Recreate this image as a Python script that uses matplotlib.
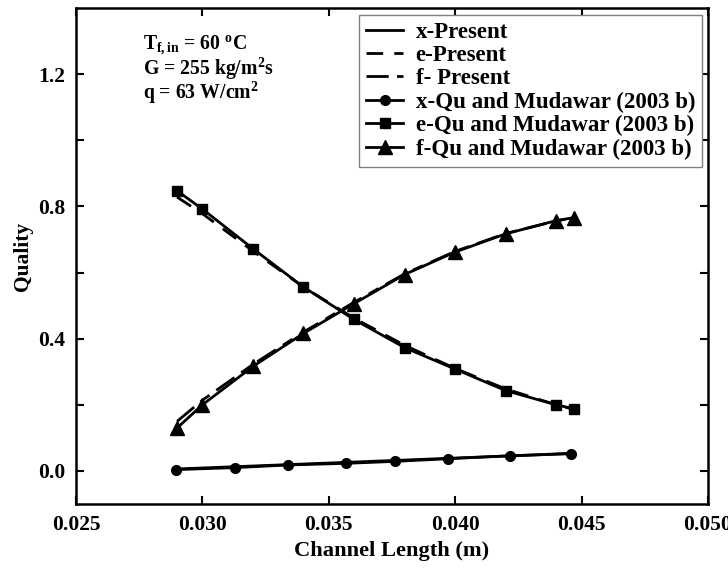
import matplotlib
matplotlib.use("Agg")
import matplotlib.pyplot as plt
from matplotlib.ticker import MultipleLocator, FixedLocator

plt.rcParams['font.family'] = ['Liberation Serif', 'DejaVu Serif']
plt.rcParams['font.weight'] = 'bold'
plt.rcParams['mathtext.fontset'] = 'custom'
plt.rcParams['mathtext.rm'] = 'Liberation Serif:bold'
plt.rcParams['mathtext.bf'] = 'Liberation Serif:bold'
plt.rcParams['mathtext.it'] = 'Liberation Serif:bold'

# Experimental (Qu and Mudawar 2003 b)
x_exp_x = [0.02895, 0.03128, 0.03337, 0.0357, 0.03764, 0.03973, 0.04218, 0.04459]
x_exp_y = [0.004, 0.010, 0.018, 0.023, 0.029, 0.037, 0.046, 0.052]

e_exp_x = [0.029, 0.030, 0.032, 0.034, 0.036, 0.038, 0.040, 0.042, 0.044, 0.0447]
e_exp_y = [0.847, 0.792, 0.672, 0.556, 0.458, 0.373, 0.308, 0.243, 0.200, 0.188]

f_exp_x = [0.029, 0.030, 0.032, 0.034, 0.036, 0.038, 0.040, 0.042, 0.044, 0.0447]
f_exp_y = [0.130, 0.200, 0.316, 0.416, 0.506, 0.594, 0.662, 0.717, 0.757, 0.766]

# Present model
x_pre_x = [0.029, 0.031, 0.033, 0.035, 0.037, 0.039, 0.041, 0.043, 0.0447]
x_pre_y = [0.006, 0.012, 0.018, 0.024, 0.030, 0.036, 0.042, 0.048, 0.054]

e_pre_x = [0.029, 0.030, 0.032, 0.034, 0.036, 0.038, 0.040, 0.042, 0.044, 0.0447]
e_pre_y = [0.828, 0.778, 0.665, 0.556, 0.462, 0.380, 0.310, 0.248, 0.200, 0.186]

f_pre_x = [0.029, 0.030, 0.032, 0.034, 0.036, 0.038, 0.040, 0.042, 0.044, 0.0447]
f_pre_y = [0.150, 0.214, 0.322, 0.420, 0.510, 0.596, 0.664, 0.718, 0.756, 0.766]

conditions = [r'T$_{\mathrm{f,in}}$ = 60 $^{\mathrm{o}}$C',
              r'G = 255 kg/m$^{\mathrm{2}}$s',
              r'q = 63 W/cm$^{\mathrm{2}}$']

fig = plt.figure(figsize=(7.28, 5.69), dpi=100)
ax = fig.add_axes([0.1044, 0.1142, 0.868, 0.8718])

lw = 2.0
ax.plot(x_pre_x, x_pre_y, '-', color='black', lw=lw, label='x-Present')
ax.plot(e_pre_x, e_pre_y, '--', color='black', lw=lw, dashes=(6, 4), label='e-Present')
ax.plot(f_pre_x, f_pre_y, '-.', color='black', lw=lw, dashes=(8, 3, 4, 3), label='f- Present')
ax.plot(x_exp_x, x_exp_y, '-o', color='black', lw=lw, ms=7, label='x-Qu and Mudawar (2003 b)')
ax.plot(e_exp_x, e_exp_y, '-s', color='black', lw=lw, ms=7.5, label='e-Qu and Mudawar (2003 b)')
ax.plot(f_exp_x, f_exp_y, '-^', color='black', lw=lw, ms=9.5, label='f-Qu and Mudawar (2003 b)')

ax.set_xlim(0.025, 0.050)
ax.set_ylim(-0.1, 1.4)
ax.xaxis.set_major_locator(MultipleLocator(0.005))
ax.yaxis.set_major_locator(FixedLocator([0.0, 0.4, 0.8, 1.2]))
ax.yaxis.set_minor_locator(FixedLocator([0.2, 0.6, 1.0]))
ax.xaxis.set_major_formatter(plt.FuncFormatter(lambda v, p: f"{v:.3f}"))
ax.yaxis.set_major_formatter(plt.FuncFormatter(lambda v, p: f"{v:.1f}"))
ax.tick_params(which='both', direction='in', top=True, right=True, width=1.5,
               labelsize=15.5, pad=8)
ax.tick_params(which='major', length=6)
ax.tick_params(which='minor', length=6)
for s in ax.spines.values():
    s.set_linewidth(1.8)

ax.set_xlabel('Channel Length (m)', fontsize=16.2, fontweight='bold', labelpad=4)
ax.set_ylabel('Quality', fontsize=15.5, fontweight='bold', labelpad=3)

ax.text(0.02765, 1.322, '\n'.join(conditions), fontsize=14.2, fontweight='bold',
        va='top', ha='left', linespacing=0.92)

leg = ax.legend(loc='upper right', bbox_to_anchor=(0.9905, 0.986),
                prop={'weight': 'bold', 'size': 16.5}, handlelength=1.6,
                labelspacing=0.1, borderpad=0.3, handletextpad=0.55,
                borderaxespad=0.0,
                fancybox=False, edgecolor='gray', framealpha=1)
leg.get_frame().set_linewidth(1.0)

fig.savefig('out.png', dpi=100)
